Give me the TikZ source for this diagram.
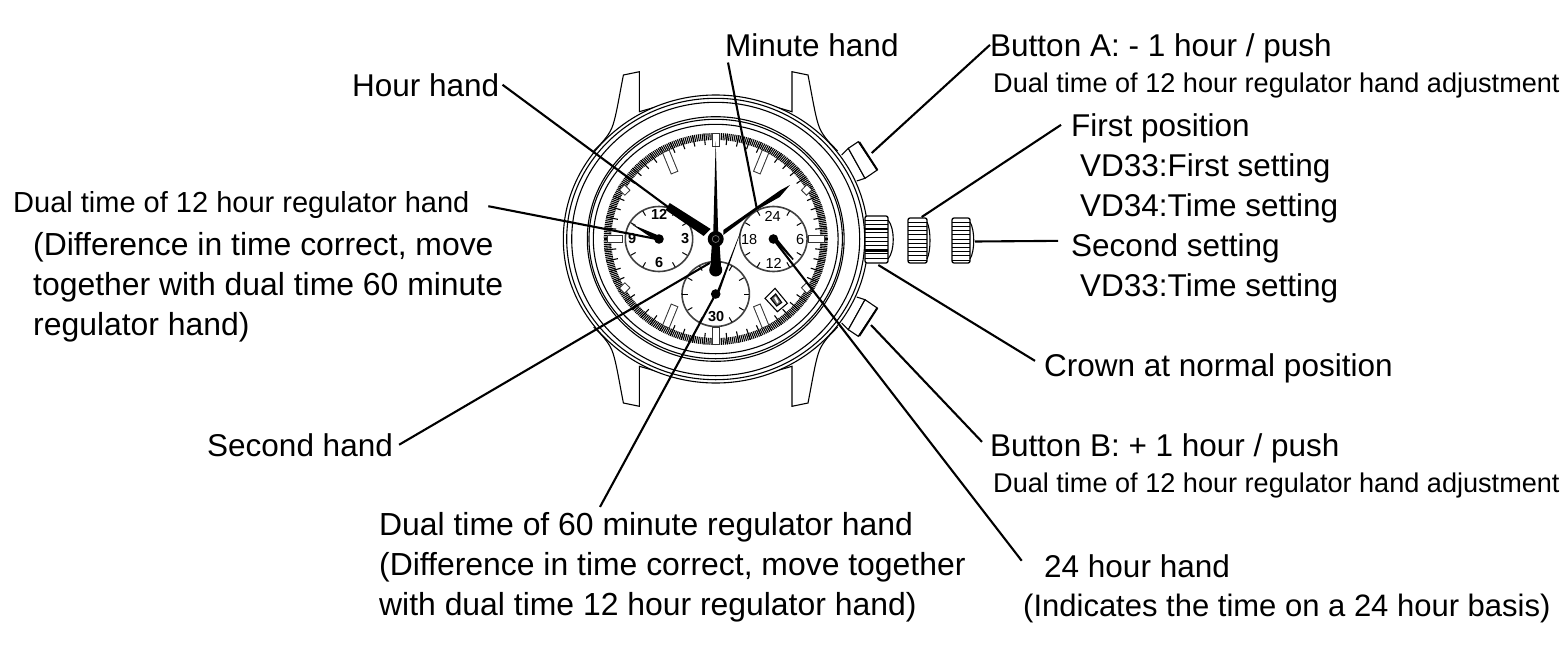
\documentclass[tikz,border=0pt]{standalone}
\usepackage{fontspec}
\setmainfont{Liberation Sans}
\tikzset{
    x=1pt, y=-1pt,
    biglabel/.style={inner sep=0pt, anchor=base west, font=\fontsize{31.5}{40}\selectfont},
    smalllabel/.style={inner sep=0pt, anchor=base west, font=\fontsize{27.1}{30}\selectfont},
    blocklabel/.style={inner sep=0pt, anchor=west, align=left, font=\fontsize{31.9}{40}\selectfont},
    callout/.style={line width=2.1pt, black},
    outline/.style={line width=1.1pt, black},
    dialnum/.style={inner sep=0pt, font=\fontsize{14.5}{15}\selectfont},
    boldnum/.style={inner sep=0pt, font=\fontsize{14.5}{15}\selectfont\bfseries},
}
\begin{document}
\begin{tikzpicture}
    \useasboundingbox (0,0) rectangle (1564,651);

    \begin{scope}[shift={(715.7,239)}]
        % Anse e pulsanti
        \foreach \sx in {1,-1} {
            \foreach \sy in {1,-1} {
                \begin{scope}[xscale=\sx, yscale=\sy]
                    \draw[outline] (-60,-132) -- (-76.3,-127.3) -- (-76.3,-167.3) -- (-92.3,-164)
                        .. controls (-97,-140) and (-100,-120) .. (-104,-110.7)
                        .. controls (-108,-102) and (-114,-96) .. (-122,-88);
                \end{scope}
            }
        }
        \foreach \sy in {1,-1} {
            \begin{scope}[yscale=\sy]
                \draw[outline] (126,-84) -- (132.6,-90.7) -- (149.3,-60.7) -- (141,-58);
                \draw[outline, fill=white] (132.6,-90.7) -- (142.6,-97.3) -- (161.6,-69) -- (149.3,-60.7) -- cycle;
                \draw[line width=2pt] (143.5,-97) -- (161.6,-69);
            \end{scope}
        }

        % Cassa e lunetta
        \draw[outline, fill=white] (0,0) ellipse [x radius=152.4, y radius=144];
        \foreach \rx/\ry in {149/140.7, 144/136.7, 128.4/122.3, 126.7/119.7, 122.4/114.7} {
            \draw[outline] (0,0) ellipse [x radius=\rx, y radius=\ry];
        }

        % Scala dei minuti
        \foreach \a in {0,1,...,359} {
            \draw[line width=1.1pt] (\a:112 and 106) -- (\a:104.5 and 99);
        }
        \foreach \a in {0,6,...,354} {
            \draw[line width=1.1pt] (\a:112 and 106) -- (\a:100 and 94.5);
        }

        % Indici delle ore
        \foreach \ax/\ay/\bx/\by in {50/-88/41/-66, -50/-88/-41/-66, 50/88/41/66, -50/88/-41/66,
                94/-52/88/-46, -94/-52/-88/-46, 94/52/88/46, -94/52/-88/46,
                109/0/92.4/0, -109/0/-92.4/0, 0/-106/0/-92, 0/106/0/88} {
            \draw[line width=8pt, black!80] (\ax,\ay) -- (\bx,\by);
            \draw[line width=6pt, white, shorten >=1pt, shorten <=1pt] (\ax,\ay) -- (\bx,\by);
        }

        % Contatori
        \foreach \sx/\sy in {-56.7/0, 57.7/0, 0/55} {
            \draw[line width=1.6pt, black!75, fill=white] (\sx,\sy) ellipse [x radius=33.7, y radius=32.5];
            \foreach \a in {30,60,120,150,210,240,300,330} {
                \draw[line width=1pt] ([shift={(\a:32.5)}]\sx,\sy) -- ([shift={(\a:27)}]\sx,\sy);
            }
            \fill (\sx,\sy) circle (4.8);
        }
        \draw[line width=1pt] (-33.7,55) -- (-28,55);
        \draw[line width=1pt] (33.7,55) -- (28,55);

        % Numeri dei contatori
        \node[boldnum] (lefttwelve) at (-56.5,-25) {12};
        \node[boldnum] (leftthree) at (-30.5,0) {3};
        \node[boldnum] (leftsix) at (-56.5,24) {6};
        \node[boldnum] (leftnine) at (-83.5,0) {9};
        \node[dialnum] (righttf) at (57,-23) {24};
        \node[dialnum] (rightsix) at (84.5,1) {6};
        \node[dialnum] (righttwelve) at (58,24) {12};
        \node[dialnum] (righteighteen) at (33.5,1) {18};
        \node[boldnum] (bottomthirty) at (0.5,78) {30};

        % Datario
        \draw[outline, fill=white] (49.3,59.3) -- (59.3,49.3) -- (71.7,64.3) -- (61.7,72.7) -- cycle;
        \draw[outline, fill=black!60] (55,59.5) -- (60,55) -- (66,63.5) -- (61,67) -- cycle;
        \fill[white] (58.5,59) -- (60,57.5) -- (63,63) -- (61.5,64.5) -- cycle;

        % Lancette
        \fill (-46,-36) -- (-5,-10) -- (-12,-3) -- (-50,-29) -- cycle;
        \fill (74.3,-54) -- (65,-49) -- (7.6,-9) -- (7.6,-4) -- (41,-29) -- (64,-42) -- cycle;
        \fill (0,-98) -- (-2.6,0) -- (2.6,0) -- cycle;
        \fill (-3.5,0) -- (3.5,0) -- (5.5,30) -- (-5.5,30) -- cycle;
        \fill (0,31) circle (6.5);
        \fill (0,0) circle (8);
        \draw[black!55, line width=0.7pt] (0,0) circle (3.5);
        \fill (-84,-14.7) -- (-56,-3) -- (-56,2) -- (-58,3) -- cycle;
        \fill (27.7,-14.7) -- (1,53) -- (2,58) -- cycle;
        \fill (56,-1) -- (60,-2) -- (78,20) -- (77,21) -- cycle;

        % Estremi dei richiami
        \coordinate (hourtip) at (-47.7,-32);
        \coordinate (minutetip) at (41,-31);
        \coordinate (twelvedial) at (-59,0);
        \coordinate (secondtail) at (-6,24);
        \coordinate (sixtydial) at (0,55);
        \coordinate (tfdial) at (57.7,0.3);
    \end{scope}

    % Corona nelle tre posizioni
    \foreach \xl/\xr/\yt/\yb/\xc in {865/888/216/263/895, 908/927/218/263/931, 952/970/218/263/975} {
        \draw[line width=1.3pt, rounded corners=2pt, fill=white] (\xl,\yt) rectangle (\xr,\yb);
        \foreach \k in {1,...,10} {
            \draw[line width=0.8pt] (\xl,\yt+\k*4.2) -- (\xr,\yt+\k*4.2);
        }
        \draw[outline] (\xr,\yt+4) .. controls (\xc,\yt+12) and (\xc,\yb-12) .. (\xr,\yb-4);
    }
    \draw[line width=1.6pt] (865,229) -- (888,229);
    \draw[line width=1.6pt] (865,251) -- (888,251);
    \coordinate (buttonatop) at (871.7,153);
    \coordinate (firstcrown) at (921.7,217);
    \coordinate (secondcrown) at (975,241.5);
    \coordinate (normalcrown) at (878.3,265);
    \coordinate (buttonbtop) at (871,325);

    % Testi a destra
    \node[biglabel] (minutelabel) at (725,56) {Minute hand};
    \node[biglabel] (buttonalabel) at (990,56) {Button A: - 1 hour / push};
    \node[smalllabel] (buttonanote) at (993,92) {Dual time of 12 hour regulator hand adjustment};
    \node[biglabel] (firstlabel) at (1071,136) {First position};
    \node[biglabel] (firstvda) at (1080,176) {VD33:First setting};
    \node[biglabel] (firstvdb) at (1080,216) {VD34:Time setting};
    \node[biglabel] (secondlabel) at (1071,256) {Second setting};
    \node[biglabel] (secondvd) at (1080,296) {VD33:Time setting};
    \node[biglabel] (crownlabel) at (1044,376) {Crown at normal position};
    \node[biglabel] (buttonblabel) at (990,456) {Button B: + 1 hour / push};
    \node[smalllabel] (buttonbnote) at (993,492) {Dual time of 12 hour regulator hand adjustment};
    \node[biglabel] (tflabel) at (1044,577) {24 hour hand};
    \node[biglabel, font=\fontsize{31}{40}\selectfont] (tfnote) at (1023,616) {(Indicates the time on a 24 hour basis)};

    % Testi a sinistra
    \node[biglabel] (hourlabel) at (352,96) {Hour hand};
    \node[smalllabel, font=\fontsize{29}{30}\selectfont] (twelvelabel) at (13,212.7) {Dual time of 12 hour regulator hand};
    \node[blocklabel] (twelvenote) at (33,287) {(Difference in time correct, move \\ together with dual time 60 minute \\ regulator hand)};
    \node[biglabel] (secondhandlabel) at (207,456) {Second hand};
    \node[blocklabel] (sixtylabel) at (379,567) {Dual time of 60 minute regulator hand \\ (Difference in time correct, move together \\ with dual time 12 hour regulator hand)};

    % Richiami
    \draw[callout] ([xshift=3]hourlabel.east) -- (hourtip);
    \draw[callout] ([xshift=3,yshift=-6]minutelabel.south west) -- (minutetip);
    \draw[callout] ([yshift=3]buttonalabel.west) -- (buttonatop);
    \draw[callout] ([xshift=-10,yshift=3]firstlabel.west) -- (firstcrown);
    \draw[callout] ([xshift=-13,yshift=7]secondlabel.west) -- (secondcrown);
    \draw[callout] ([xshift=-9,yshift=7]crownlabel.west) -- (normalcrown);
    \draw[callout] ([xshift=-8,yshift=6]buttonblabel.west) -- (buttonbtop);
    \draw[callout] ([xshift=-22.3,yshift=5]tflabel.west) -- (tfdial);
    \draw[callout] ([xshift=18.7,yshift=-1]twelvelabel.east) -- (twelvedial);
    \draw[callout] ([xshift=6]secondhandlabel.east) -- (secondtail);
    \draw[callout] ([xshift=221,yshift=5]sixtylabel.north west) -- (sixtydial);
\end{tikzpicture}
\end{document}
